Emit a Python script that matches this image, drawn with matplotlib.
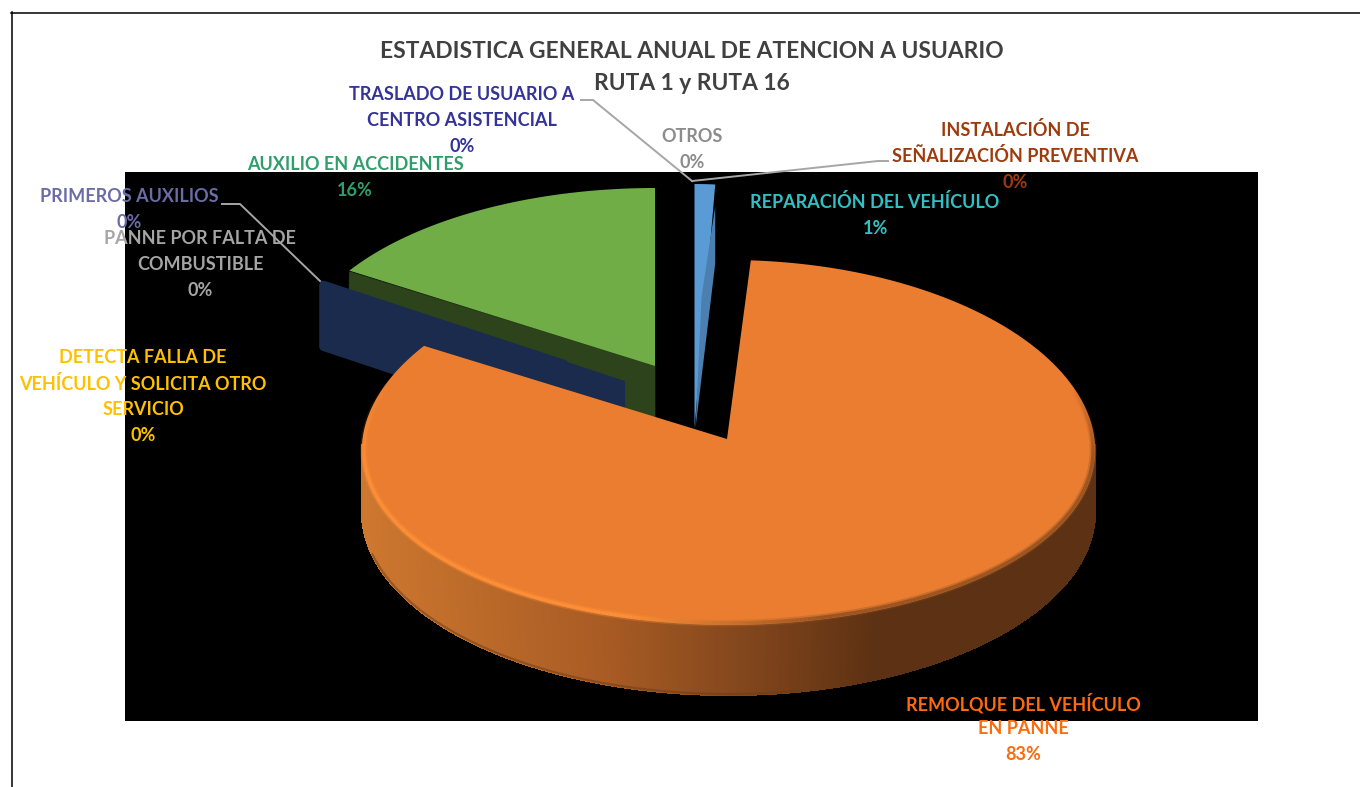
import numpy as np
import matplotlib
matplotlib.use("Agg")
import matplotlib.pyplot as plt
from matplotlib.patches import Polygon
from matplotlib.collections import PolyCollection, LineCollection
from matplotlib.colors import LinearSegmentedColormap, to_rgb
from matplotlib.lines import Line2D

plt.rcParams['font.family'] = ['Lato', 'DejaVu Sans']

# ---- data (clockwise from 12 o'clock) ----
categories = ["REPARACIÓN DEL VEHÍCULO", "REMOLQUE DEL VEHÍCULO EN PANNE",
              "DETECTA FALLA DE VEHÍCULO Y SOLICITA OTRO SERVICIO",
              "PANNE POR FALTA DE COMBUSTIBLE", "PRIMEROS AUXILIOS",
              "AUXILIO EN ACCIDENTES", "TRASLADO DE USUARIO A CENTRO ASISTENCIAL",
              "INSTALACIÓN DE SEÑALIZACIÓN PREVENTIVA", "OTROS"]
values = [1, 83, 0, 0, 0, 16, 0, 0, 0]
title_lines = ["ESTADISTICA GENERAL ANUAL DE ATENCION A USUARIO", "RUTA 1 y RUTA 16"]

# ---- layout ----
W, H = 1360, 787
PLOT = (125, 172, 1258, 721)
fig = plt.figure(figsize=(W / 100, H / 100), dpi=100, facecolor="white")
ax = fig.add_axes([PLOT[0] / W, 1 - PLOT[3] / H, (PLOT[2] - PLOT[0]) / W, (PLOT[3] - PLOT[1]) / H])
ax.set_xlim(PLOT[0], PLOT[2])
ax.set_ylim(PLOT[3], PLOT[1])
ax.set_facecolor("black")
ax.set_xticks([]); ax.set_yticks([])
for s in ax.spines.values():
    s.set_visible(False)

starts = np.cumsum([0] + values[:-1]) / sum(values) * 360.0
ends = np.cumsum(values) / sum(values) * 360.0


def ring(cx, cy, a, b_up, b_down, t0, t1, n=240, k=0.0):
    """Projected rim of a tilted disc between clockwise angles t0..t1."""
    t = np.radians(np.linspace(t0, t1, n))
    c = np.cos(t)
    return np.column_stack([cx + a * np.sin(t) * (1 - k * c), cy - np.where(c > 0, b_up, b_down) * c])


def radial(cx, cy, a, b, theta):
    t = np.radians(theta)
    return np.array([cx + a * np.sin(t), cy - b * np.cos(t)])


A = 362
DEPTH = 69

# --- Auxilio (green) ---
i = 5
gc = (655, 366)
g_rim = radial(*gc, A, 176, starts[i])
ax.add_patch(Polygon([g_rim, gc, (gc[0], gc[1] + DEPTH), (g_rim[0] - 1, g_rim[1] + DEPTH)],
                     fc="#2c431b", ec="#2c431b", lw=0.5))
ax.add_patch(Polygon(np.vstack([[gc], ring(*gc, A, 178, 178, starts[i], 360)]), fc="#70ad47", ec="none"))

# --- Primeros auxilios (zero slice: only its cut face shows) ---
i = 4
nc = np.array([625.0, 381.0])
n_rim = radial(*nc, A, 187, starts[i])
along = nc - n_rim
mid = n_rim + along * 0.8
# rounded outer end, square inner end
ax.add_patch(Polygon([n_rim + (4, 4), mid + (0, 3), mid + (0, DEPTH - 3), (n_rim[0] + 4, n_rim[1] + DEPTH - 3)],
                     fc="#1a2b4d", ec="#1a2b4d", lw=6, joinstyle="round"))
ax.add_patch(Polygon([nc, (nc[0], nc[1] + DEPTH), mid + (0, DEPTH), mid], fc="#1a2b4d", ec="none"))

# --- Reparación (blue) ---
i = 0
bc = np.array([694.5, 428])
top = ring(*bc, 330, 244, 244, starts[i], ends[i], n=12)
ax.add_patch(Polygon(np.vstack([[bc], top]), fc="#5b9bd5", ec="none"))
ax.add_patch(Polygon([top[-1] + (0, 22), bc + (7, -131), bc + (1, 0), top[-1] + (0, 79), top[-1] + (0, 22)],
                     fc="#4a7fb0", ec="none"))

# --- Remolque (orange) ---
i = 1
oc = np.array([727, 439])
fc_ring = (728.5, 445, 366.5, 185, 180)
# wall with a horizontal shade
up = ring(*fc_ring, 90, 270, n=500, k=0.03)
lo = ring(728.5, 512, 366.5, 183, 183, 90, 270, n=500)
shade = LinearSegmentedColormap.from_list("wall", [(0, "#cd772f"), (0.33, "#a85b24"), (0.55, "#7d431b"),
                                                   (0.70, "#5d3113"), (1, "#5d3113")])
quads = [[up[k], up[k + 1], lo[k + 1], lo[k]] for k in range(len(up) - 1)]
xs = np.array([(q[0][0] + q[1][0]) / 2 for q in quads])
cols = shade((xs - 362) / 733)
ax.add_collection(PolyCollection(quads, facecolors=cols, edgecolors=cols, linewidths=0.8, antialiaseds=False))
mask = (lo[:, 0] < 800) & (lo[:, 0] > 372)
ax.plot(lo[mask, 0], lo[mask, 1] - 1, color="#6b3a16", lw=1.5, alpha=0.5)

face = ring(*fc_ring, starts[i], ends[i], n=500, k=0.03)
ax.add_patch(Polygon(np.vstack([[oc], face]), fc="#eb7d31", ec="none"))

# soft bevel along the rim: bright on the left, dark on the right
th_all = np.linspace(72, 290, 340)
rim = ring(fc_ring[0], fc_ring[1], fc_ring[2] - 2, fc_ring[3], fc_ring[4] - 2, 72, 290, n=340, k=0.03)
th = th_all[:-1]
segs = np.stack([rim[:-1], rim[1:]], axis=1)
mix = np.clip((th - 165) / 30, 0, 1)[:, None]
base = (1 - mix) * np.array(to_rgb("#8a4d20")) + mix * np.array(to_rgb("#ff9238"))
fade = np.clip((290 - th) / 30, 0, 1) * np.clip((th - 72) / 22, 0, 1)
for lw, alpha in [(5, 0.3), (2.5, 0.75)]:
    ax.add_collection(LineCollection(segs, colors=np.column_stack([base, alpha * fade]), linewidths=lw))

# ---- leader lines ----
lead = "#a6a6a6"
ax.plot([222, 240, 320], [204, 204, 281], color=lead, lw=1.4, clip_on=False)
ax.plot([581, 593, 692], [100, 100, 181], color=lead, lw=1.4, clip_on=False)
ax.plot([692, 878, 888], [181, 161, 161], color=lead, lw=1.4, clip_on=False)

# ---- labels ----
pct = [f"{round(v / sum(values) * 100)}%" for v in values]
FS = 13.0
labels = [
    (0, ["REPARACIÓN DEL VEHÍCULO"], 875, 202.5, "#2fc2c4"),
    (1, ["REMOLQUE DEL VEHÍCULO", "EN PANNE"], 1023, 703, "#ff6a0a"),
    (2, ["DETECTA FALLA DE", "VEHÍCULO Y SOLICITA OTRO", "SERVICIO"], 143, 357.5, "#ffc000"),
    (3, ["PANNE POR FALTA DE", "COMBUSTIBLE"], 200, 239, "#a5a5a5"),
    (4, ["PRIMEROS AUXILIOS"], 129, 197, "#6b6ba5"),
    (5, ["AUXILIO EN ACCIDENTES"], 355, 164, "#2f9e6b"),
    (6, ["TRASLADO DE USUARIO A", "CENTRO ASISTENCIAL"], 462, 94.5, "#333399"),
    (7, ["INSTALACIÓN DE", "SEÑALIZACIÓN PREVENTIVA"], 1015, 130, "#9e3a0c"),
    (8, ["OTROS"], 692, 136.5, "#8c8c8c"),
]
for idx, lines, x, y, col in labels:
    for k, line in enumerate(lines + [pct[idx]]):
        ax.text(x, y + 26 * k, line, color=col, fontsize=FS, fontweight="bold",
                ha="center", va="center", clip_on=False, zorder=10)

for k, line in enumerate(title_lines):
    ax.text(692, 52 + 32 * k, line, color="#404040", fontsize=16.4, fontweight="bold",
            ha="center", va="center", clip_on=False, zorder=10)

# ---- outer frame ----
for xy in [((11, 1360), (12.5, 12.5)), ((11.5, 11.5), (12, 787))]:
    fig.add_artist(Line2D(np.array(xy[0]) / W, 1 - np.array(xy[1]) / H, color="black", lw=1.1))

fig.savefig("out.png", dpi=100, facecolor="white")
